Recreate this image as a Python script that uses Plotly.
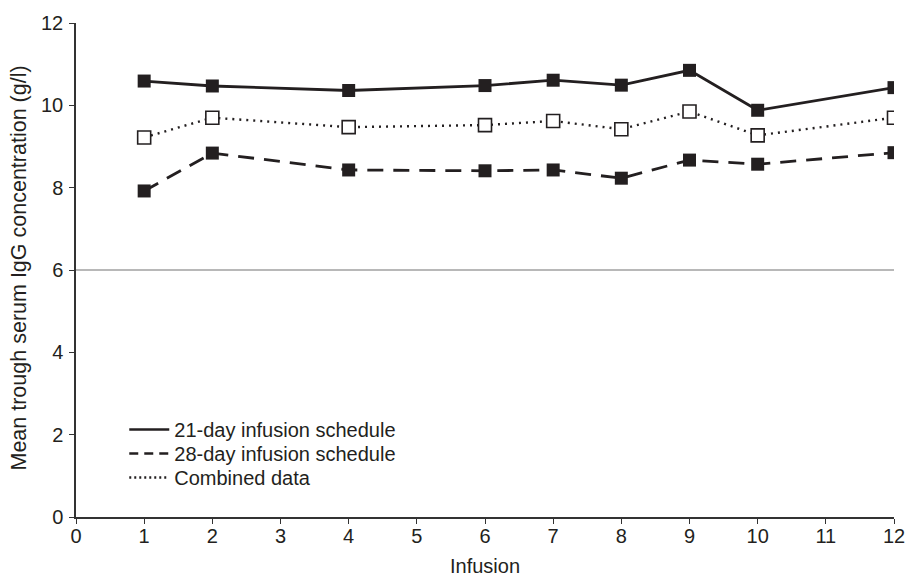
import plotly.graph_objects as go

infusion = [1, 2, 4, 6, 7, 8, 9, 10, 12]
sched21 = [10.59, 10.47, 10.36, 10.48, 10.61, 10.49, 10.85, 9.88, 10.43]
sched28 = [7.92, 8.84, 8.43, 8.41, 8.43, 8.23, 8.67, 8.57, 8.85]
combined = [9.22, 9.70, 9.47, 9.52, 9.62, 9.42, 9.85, 9.27, 9.70]
names = ["21-day infusion schedule", "28-day infusion schedule", "Combined data"]
threshold = 6
y_title = "Mean trough serum IgG concentration (g/l)"
x_title = "Infusion"

ink = "#231f20"
fig = go.Figure()

fig.add_trace(go.Scatter(x=[0, 12], y=[threshold, threshold], mode="lines",
                         line=dict(color="#a0a0a0", width=1.5), showlegend=False, hoverinfo="skip"))

fig.add_trace(go.Scatter(x=infusion, y=sched21, mode="lines+markers",
                         line=dict(color=ink, width=2.8),
                         marker=dict(symbol="square", size=13, color=ink),
                         showlegend=False))
fig.add_trace(go.Scatter(x=infusion, y=sched28, mode="lines+markers",
                         line=dict(color=ink, width=2.8, dash="16px,10px"),
                         marker=dict(symbol="square", size=13, color=ink),
                         showlegend=False))
fig.add_trace(go.Scatter(x=infusion, y=combined, mode="lines+markers",
                         line=dict(color=ink, width=2.4, dash="2px,5px"),
                         marker=dict(symbol="square", size=13, color="white",
                                     line=dict(color=ink, width=1.6)),
                         showlegend=False))

# legend-only entries (lines without markers), one legend per row for tight spacing
legend_ids = ["legend", "legend2", "legend3"]
for nm, dash, lg in zip(names, ["solid", "9px,6px", "2px,3px"], legend_ids):
    fig.add_trace(go.Scatter(x=[None], y=[None], mode="lines", name=nm, legend=lg,
                             line=dict(color=ink, width=2.4, dash=dash)))

fig.add_annotation(text=y_title, xref="paper", yref="paper",
                   x=-0.0697, y=0.505, xanchor="center", yanchor="middle",
                   textangle=-90, showarrow=False,
                   font=dict(size=21.5, color=ink))
fig.add_annotation(text=x_title, xref="paper", yref="paper",
                   x=0.5, y=-0.0992, xanchor="center", yanchor="middle",
                   showarrow=False, font=dict(size=20, color=ink))

leg_common = dict(x=0.059, xanchor="left", yanchor="top", bgcolor="rgba(0,0,0,0)",
                  font=dict(size=20, color=ink), itemwidth=40)

fig.update_layout(
    width=905, height=577,
    margin=dict(l=76, r=11, t=23, b=60),
    paper_bgcolor="white", plot_bgcolor="white",
    font=dict(family="Liberation Sans, Arial, sans-serif", size=20, color=ink),
    legend=dict(y=0.2166, **leg_common),
    legend2=dict(y=0.168, **leg_common),
    legend3=dict(y=0.1194, **leg_common),
    xaxis=dict(range=[0, 12], tickmode="linear", tick0=0, dtick=1, automargin=False,
               showgrid=False, zeroline=False, showline=True, linecolor="#333333", linewidth=1.5,
               ticks="outside", ticklen=5, tickcolor="#333333", tickfont=dict(size=20, color=ink),
               ticklabelstandoff=-5, ticklabeloverflow="allow"),
    yaxis=dict(range=[0, 12], tickmode="linear", tick0=0, dtick=2, automargin=False,
               showgrid=False, zeroline=False, showline=True, linecolor="#333333", linewidth=1.5,
               ticks="outside", ticklen=5, tickcolor="#333333", tickfont=dict(size=20, color=ink),
               ticklabelstandoff=2, ticklabeloverflow="allow"),
)

fig.write_html("out.html", config={"displayModeBar": False},
               post_script="document.body.style.margin='0px';document.body.style.overflow='hidden';")
